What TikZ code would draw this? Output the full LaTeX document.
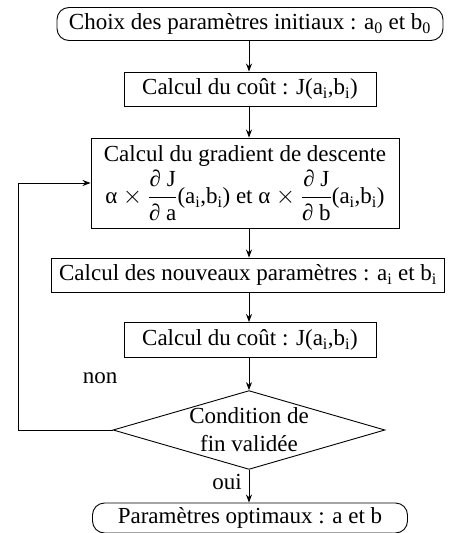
\documentclass[tikz,border=0pt]{standalone}
\usepackage{amsmath}
\usepackage{fontspec}
\setmainfont{Liberation Serif}
\usetikzlibrary{arrows.meta,shapes.geometric}

\begin{document}
\begin{tikzpicture}[
  x=1pt, y=-1pt,
  font=\fontsize{23}{28}\selectfont,
  >={Stealth[length=8pt,width=6pt]},
  term/.style={draw, rounded corners=12pt, align=center, inner sep=0pt},
  blk/.style={draw, align=center, inner sep=0pt},
  test/.style={draw, diamond, align=center, inner sep=0pt, shape aspect=3.45,
               minimum width=262pt, minimum height=76pt},
  arr/.style={->, line width=0.9pt},
  every node/.append style={line width=0.9pt}
]
\useasboundingbox (0,0) rectangle (456,533);

% ---- steps ----
\node[term, minimum width=386pt, minimum height=33pt] (init) at (250,24)
  {Choix des paramètres initiaux : a\textsubscript{0} et b\textsubscript{0}};
\node[blk, minimum width=252pt, minimum height=34pt] (cout) at (250,89)
  {Calcul du coût : J(a\textsubscript{i},b\textsubscript{i})};
\node[blk, minimum width=308pt, minimum height=90pt] (grad) at (245,183)
  {Calcul du gradient de descente\\[3pt]
   $\text{α}\times\dfrac{\text{∂ J}}{\text{∂ a}}\text{(a\textsubscript{i},b\textsubscript{i})}$
   et $\text{α}\times\dfrac{\text{∂ J}}{\text{∂ b}}\text{(a\textsubscript{i},b\textsubscript{i})}$};
\node[blk, minimum width=393pt, minimum height=34pt] (maj) at (248,275)
  {Calcul des nouveaux paramètres : a\textsubscript{i} et b\textsubscript{i}};
\node[blk, minimum width=252pt, minimum height=35pt] (cout2) at (250,340)
  {Calcul du coût : J(a\textsubscript{i},b\textsubscript{i})};
\node[test] (fin) at (249,430) {Condition de\\fin validée};
\node[term, minimum width=315pt, minimum height=30pt] (res) at (250,518)
  {Paramètres optimaux : a et b};

% ---- labels ----
\node (non) at (100,378) {non};
\node (oui) at (227,482) {oui};

% ---- flow ----
\draw[arr] (init.south -| fin.north) -- (cout.north -| fin.north);
\draw[arr] (cout.south -| fin.north) -- (grad.north -| fin.north);
\draw[arr] (grad.south -| fin.north) -- (maj.north -| fin.north);
\draw[arr] (maj.south -| fin.north) -- (cout2.north -| fin.north);
\draw[arr] (cout2.south -| fin.north) -- (fin.north);
\draw[arr] (fin.south) -- (res.north -| fin.south);

% ---- loop back ----
\coordinate (lp) at (18,430);
\draw[arr] (fin.west) -- (lp) |- (grad.west);
\end{tikzpicture}
\end{document}
